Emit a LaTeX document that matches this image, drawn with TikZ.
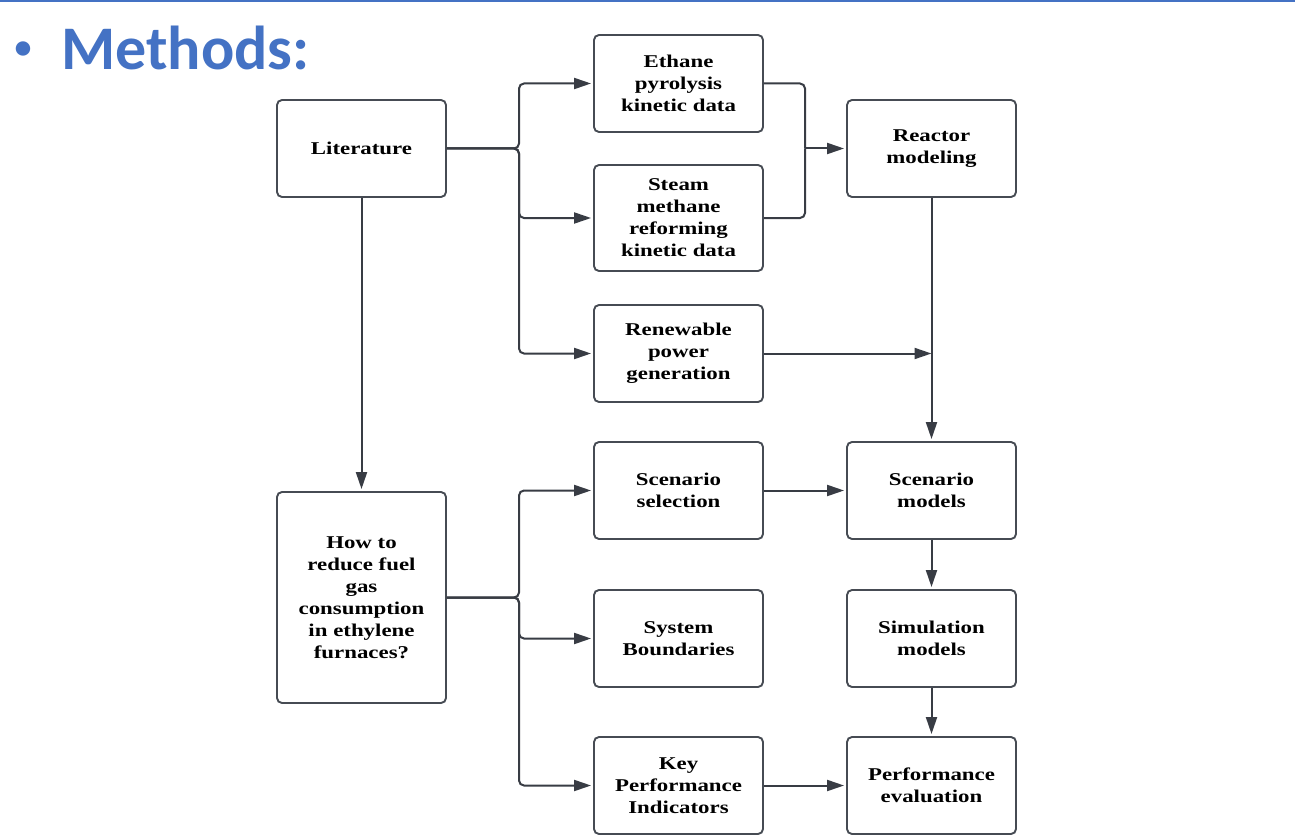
\documentclass[tikz,border=0pt]{standalone}
\usepackage{fontspec}
\usetikzlibrary{arrows.meta}
\newfontfamily\boxfont[FakeStretch=1.27]{Liberation Serif Bold}
\newfontfamily\titlefont{Carlito}
\definecolor{lineclr}{HTML}{383C44}
\definecolor{boxclr}{HTML}{464B53}
\definecolor{titleblue}{HTML}{4472C4}
\tikzset{
  stepbox/.style={draw=boxclr, line width=1.9pt, rounded corners=5pt, fill=white,
    minimum width=169pt, minimum height=97pt, align=center, inner sep=2pt,
    font={\boxfont\fontsize{18pt}{22pt}\selectfont}},
  conn/.style={draw=lineclr, line width=2pt, rounded corners=5pt, shorten >=2pt,
    -{Triangle[length=17pt,width=11pt]}},
  plainconn/.style={draw=lineclr, line width=2pt, rounded corners=5pt}
}
\begin{document}
\begin{tikzpicture}[x=1pt,y=-1pt]
\useasboundingbox (0,0) rectangle (1295,837);
\fill[white] (0,0) rectangle (1295,837);
\draw[titleblue, line width=2pt] (0,1.5) -- (1295,1.5);
\node[anchor=base, inner sep=0, text=titleblue, font={\titlefont\bfseries\fontsize{34pt}{40pt}\selectfont}] (bul) at (23,59) {•};
\node[anchor=base west, inner sep=0, text=titleblue, font={\titlefont\bfseries\fontsize{62pt}{70pt}\selectfont}] (title) at (61,70) {Methods:};

\node[stepbox] (lit) at (361.5,148.5) {Literature};
\node[stepbox] (eth) at (678.5,83.5) {Ethane\\pyrolysis\\kinetic data};
\node[stepbox, minimum height=106pt] (smr) at (678.5,218) {Steam\\methane\\reforming\\kinetic data};
\node[stepbox] (ren) at (678.5,353.5) {Renewable\\power\\generation};
\node[stepbox] (rea) at (931.5,148.5) {Reactor\\modeling};
\node[stepbox] (ssel) at (678.5,490.5) {Scenario\\selection};
\node[stepbox] (smod) at (931.5,490.5) {Scenario\\models};
\node[stepbox] (sysb) at (678.5,638.5) {System\\Boundaries};
\node[stepbox] (simm) at (931.5,638.5) {Simulation\\models};
\node[stepbox] (kpi) at (678.5,785.5) {Key\\Performance\\Indicators};
\node[stepbox] (perf) at (931.5,785.5) {Performance\\evaluation};
\node[stepbox, minimum height=211pt] (how) at (361.5,597.5) {How to\\reduce fuel\\gas\\consumption\\in ethylene\\furnaces?};

\coordinate (j1) at (519,148.5);
\coordinate (j2) at (805,148.5);
\coordinate (j3) at (519,597.5);
\coordinate (rmid) at (rea.south |- ren.east);

\draw[conn] (lit.east) -- (j1) |- (eth.west);
\draw[conn] (lit.east) -- (j1) |- (smr.west);
\draw[conn] (lit.east) -- (j1) |- (ren.west);
\draw[plainconn] (eth.east) -| (j2);
\draw[plainconn] (smr.east) -| (j2);
\draw[conn] (j2) -- (rea.west);
\draw[conn] (rea.south) -- (smod.north);
\draw[conn, shorten >=0pt] (ren.east) -- (rmid);
\draw[conn] (lit.south) -- (how.north);
\draw[conn] (how.east) -- (j3) |- (ssel.west);
\draw[conn] (how.east) -- (j3) |- (sysb.west);
\draw[conn] (how.east) -- (j3) |- (kpi.west);
\draw[conn] (ssel.east) -- (smod.west);
\draw[conn] (smod.south) -- (simm.north);
\draw[conn] (simm.south) -- (perf.north);
\draw[conn] (kpi.east) -- (perf.west);
\end{tikzpicture}
\end{document}
